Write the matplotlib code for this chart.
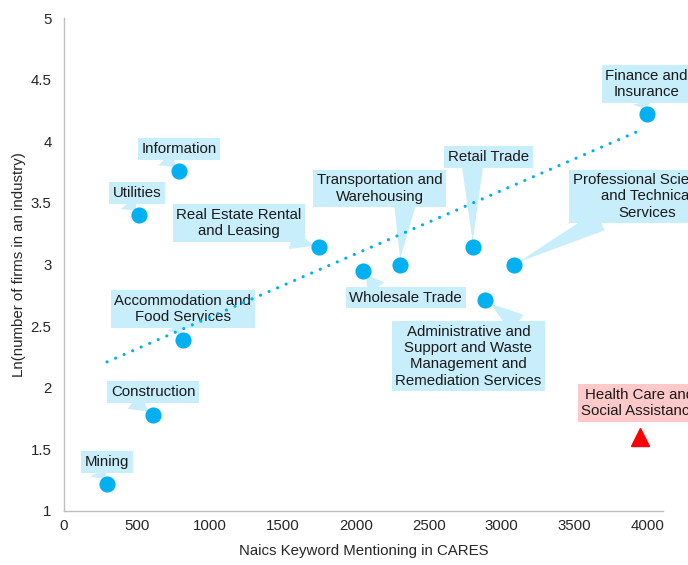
import numpy as np
import matplotlib.pyplot as plt

plt.rcParams['font.family'] = ['Liberation Sans', 'DejaVu Sans']

# industry data: keyword mentions vs ln(number of firms)
industries = ['Mining', 'Construction', 'Accommodation and\nFood Services', 'Utilities',
              'Information', 'Real Estate Rental\nand Leasing', 'Wholesale Trade',
              'Transportation and\nWarehousing', 'Retail Trade',
              'Administrative and\nSupport and Waste\nManagement and\nRemediation Services',
              'Professional Scientific\nand Technical\nServices', 'Finance and\nInsurance']
mentions = [295, 610, 815, 514, 788, 1747, 2048, 2301, 2801, 2888, 3082, 3993]
ln_firms = [1.22, 1.78, 2.39, 3.40, 3.76, 3.14, 2.95, 3.00, 3.14, 2.71, 3.00, 4.22]

outlier_name = 'Health Care and\nSocial Assistance'
outlier_x = [3946]
outlier_y = [1.60]

# dotted linear trend
trend_x = [295, 3932]
trend_y = [2.21, 4.08]

# label offsets (pixels) and where each callout tail leaves its box
offsets = [(0, 22), (0, 23), (0, 31), (-2, 22), (0, 22), (-80, 24), (43, -27),
           (-20, 76), (16, 90), (-17, -56), (133, 68), (0, 30)]
tails = [(0.3, 0), (0.25, 0), (0.45, 0), (0.3, 0), (0.3, 0), (0.9, 0), (0.25, 1),
         (0.7, 0), (0.3, 0), (0.85, 1), (0.2, 0), (0.45, 0)]

blue = '#00B0F0'
box_blue = '#C8EDFB'
text_col = '#1A1A1A'

fig = plt.figure(figsize=(6.88, 5.65), dpi=100)
ax = fig.add_axes([64 / 688, 1 - 511 / 565, (663 - 64) / 688, (511 - 18) / 565])

ax.plot(trend_x, trend_y, color=blue, linewidth=2.3, linestyle=(0, (0.01, 2.9)),
        dash_capstyle='round', zorder=4)

for name, x, y, off, rel in zip(industries, mentions, ln_firms, offsets, tails):
    ax.annotate(name, xy=(x, y), xytext=off, textcoords='offset pixels',
                ha='center', va='center', fontsize=10.8, color=text_col,
                bbox=dict(boxstyle='square,pad=0.25', fc=box_blue, ec='none'),
                arrowprops=dict(arrowstyle='wedge,tail_width=1.4,shrink_factor=0.5',
                                fc=box_blue, ec='none', relpos=rel, patchA=None,
                                shrinkB=4),
                zorder=3, annotation_clip=False)

ax.scatter(mentions, ln_firms, s=135, color=blue, zorder=5, linewidths=0)

ax.annotate(outlier_name, xy=(outlier_x[0], outlier_y[0]), xytext=(0, 34),
            textcoords='offset pixels', ha='center', va='center', fontsize=10.8,
            color=text_col, bbox=dict(boxstyle='square,pad=0.25', fc='#FFC9C9', ec='none'),
            zorder=3, annotation_clip=False)
ax.plot(outlier_x, outlier_y, marker='^', markersize=13.5, color='#FF0000',
        linestyle='none', zorder=5)

ax.set_xlim(0, 4105)
ax.set_ylim(1, 5)
ax.set_xticks(range(0, 4001, 500))
ax.set_yticks([1, 1.5, 2, 2.5, 3, 3.5, 4, 4.5, 5])
ax.set_yticklabels(['1', '1.5', '2', '2.5', '3', '3.5', '4', '4.5', '5'])

for side in ['top', 'right']:
    ax.spines[side].set_visible(False)
for side in ['left', 'bottom']:
    ax.spines[side].set_color('#BFBFBF')
    ax.spines[side].set_linewidth(1)
ax.tick_params(axis='both', length=0, labelsize=10.8, labelcolor='#262626')
ax.tick_params(axis='y', pad=9)
ax.tick_params(axis='x', pad=6)

ax.set_xlabel('Naics Keyword Mentioning in CARES', fontsize=10.8, color='#262626', labelpad=8)
ax.set_ylabel('Ln(number of firms in an industry)', fontsize=10.8, color='#262626', labelpad=3)

fig.savefig('out.png', dpi=100)
